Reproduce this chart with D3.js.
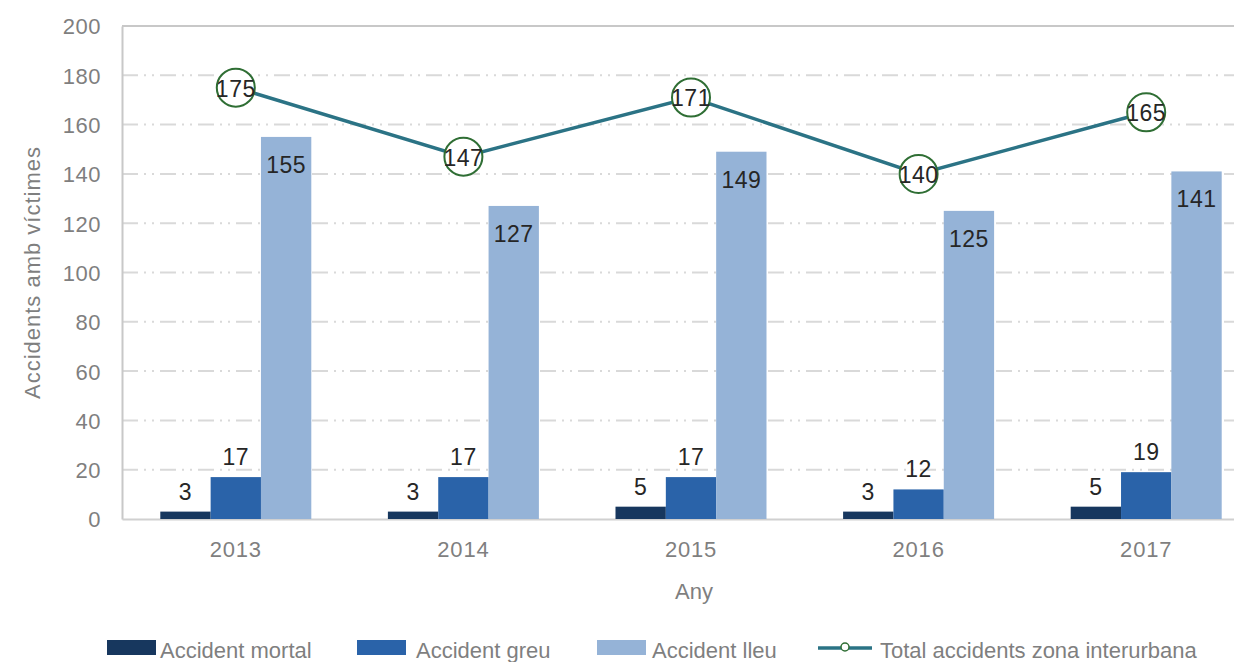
<!DOCTYPE html>
<html><head><meta charset="utf-8">
<script src="https://cdn.jsdelivr.net/npm/d3@7"></script>
<style>body{margin:0;background:#fff;} text{font-family:"Liberation Sans",Arial,sans-serif;}</style>
</head><body>
<svg id="c" width="1234" height="662"></svg>
<script>
const years = ["2013","2014","2015","2016","2017"];
const mortal = [3,3,5,3,5];
const greu = [17,17,17,12,19];
const lleu = [155,127,149,125,141];
const total = [175,147,171,140,165];
const seriesNames = ["Accident mortal","Accident greu","Accident lleu"];
const lineName = "Total accidents zona interurbana";
const yTicks = [0,20,40,60,80,100,120,140,160,180,200];
const colors = ["#17375e","#2a63a9","#95b3d7"];
const lineColor = "#2b7385";
const markerColor = "#2f6e34";

(function(){
const svg = d3.select("#c");
const pLeft = 122, pRight = 1260, pTop = 26, pBottom = 519;
const x = d3.scaleBand().domain(years).range([pLeft, pRight]).paddingInner(0).paddingOuter(0);
const y = d3.scaleLinear().domain([0,200]).range([pBottom, pTop]);
const groupW = 151;
const xs = d3.scaleBand().domain(seriesNames).range([0, groupW]);

// gridlines
svg.append("g").selectAll("line").data(yTicks.filter(t=>t>0 && t<200)).join("line")
  .attr("x1", pLeft).attr("x2", 1234).attr("y1", d=>y(d)).attr("y2", d=>y(d))
  .attr("stroke","#d9d9d9").attr("stroke-width",2).attr("stroke-dasharray","16,6,2,6,2,6");
svg.append("line").attr("x1",pLeft).attr("x2",1234).attr("y1",y(200)).attr("y2",y(200))
  .attr("stroke","#c8c8c8").attr("stroke-width",2);

// axes
const yAxis = d3.axisLeft(y).tickValues(yTicks).tickSize(0).tickPadding(21);
const gy = svg.append("g").attr("transform",`translate(${pLeft},0)`).call(yAxis);
gy.select(".domain").attr("stroke","#c8c8c8").attr("stroke-width",2);
gy.selectAll("text").attr("fill","#7f7f7f").style("font-size","22px").style("letter-spacing","0.5px").attr("dy","0.36em");

const xAxis = d3.axisBottom(x).tickSize(0).tickPadding(22);
const gx = svg.append("g").attr("transform",`translate(0,${pBottom})`).call(xAxis);
gx.select(".domain").attr("stroke","#d0d0d0").attr("stroke-width",2);
gx.selectAll("text").attr("fill","#7f7f7f").style("font-size","22px").style("letter-spacing","0.8px").attr("dy","0.71em");

// bars
const data = [mortal, greu, lleu];
data.forEach((arr, si) => {
  const g = svg.append("g");
  g.selectAll("rect").data(arr).join("rect")
    .attr("x",(d,i)=>x(years[i]) + x.bandwidth()/2 - groupW/2 + xs(seriesNames[si]))
    .attr("width", xs.bandwidth())
    .attr("y", d=>y(d)).attr("height", d=>pBottom - y(d))
    .attr("fill", colors[si]);
  g.selectAll("text").data(arr).join("text")
    .attr("x",(d,i)=>x(years[i]) + x.bandwidth()/2 - groupW/2 + xs(seriesNames[si]) + xs.bandwidth()/2)
    .attr("y", d=> si===2 ? y(d)+36 : y(d)-12)
    .attr("text-anchor","middle").attr("fill","#262626").style("font-size","23px").style("letter-spacing","0.5px")
    .text(d=>d);
});

// line
const cx = i => x(years[i]) + x.bandwidth()/2;
const line = d3.line().x((d,i)=>cx(i)).y(d=>y(d));
svg.append("path").datum(total).attr("d", line).attr("fill","none")
  .attr("stroke", lineColor).attr("stroke-width",3.5);
svg.append("g").selectAll("circle").data(total).join("circle")
  .attr("cx",(d,i)=>cx(i)).attr("cy",d=>y(d)).attr("r",19)
  .attr("fill","#fff").attr("stroke",markerColor).attr("stroke-width",2);
svg.append("g").selectAll("text").data(total).join("text")
  .attr("x",(d,i)=>cx(i)).attr("y",d=>y(d)+9)
  .attr("text-anchor","middle").attr("fill","#262626").style("font-size","23px").style("letter-spacing","0.5px").text(d=>d);

// axis titles
svg.append("text").attr("transform",`translate(40,${(pTop+pBottom)/2}) rotate(-90)`)
  .attr("text-anchor","middle").attr("fill","#7f7f7f").style("font-size","22px").style("letter-spacing","1px").text("Accidents amb víctimes");
svg.append("text").attr("x",694).attr("y",599).attr("text-anchor","middle")
  .attr("fill","#7f7f7f").style("font-size","22px").text("Any");

// legend
const legY = 648;
const legItems = [
  {name: seriesNames[0], sx: 107, tx: 160, type:"bar", c: colors[0]},
  {name: seriesNames[1], sx: 357, tx: 416, type:"bar", c: colors[1]},
  {name: seriesNames[2], sx: 597, tx: 652, type:"bar", c: colors[2]},
  {name: lineName, sx: 818, tx: 880, type:"line", c: lineColor}
];
const lg = svg.append("g");
legItems.forEach(it => {
  if (it.type === "bar") {
    lg.append("rect").attr("x", it.sx).attr("y", legY-8).attr("width",49).attr("height",15).attr("fill", it.c);
  } else {
    lg.append("line").attr("x1",it.sx).attr("x2",it.sx+54).attr("y1",legY).attr("y2",legY)
      .attr("stroke",it.c).attr("stroke-width",3.5);
    lg.append("circle").attr("cx",it.sx+27).attr("cy",legY-1).attr("r",4)
      .attr("fill","#fff").attr("stroke",markerColor).attr("stroke-width",1.5);
  }
  lg.append("text").attr("x", it.tx).attr("y", legY+10).attr("fill","#7f7f7f")
    .style("font-size","22px").text(it.name);
});
})();
</script>
</body></html>
